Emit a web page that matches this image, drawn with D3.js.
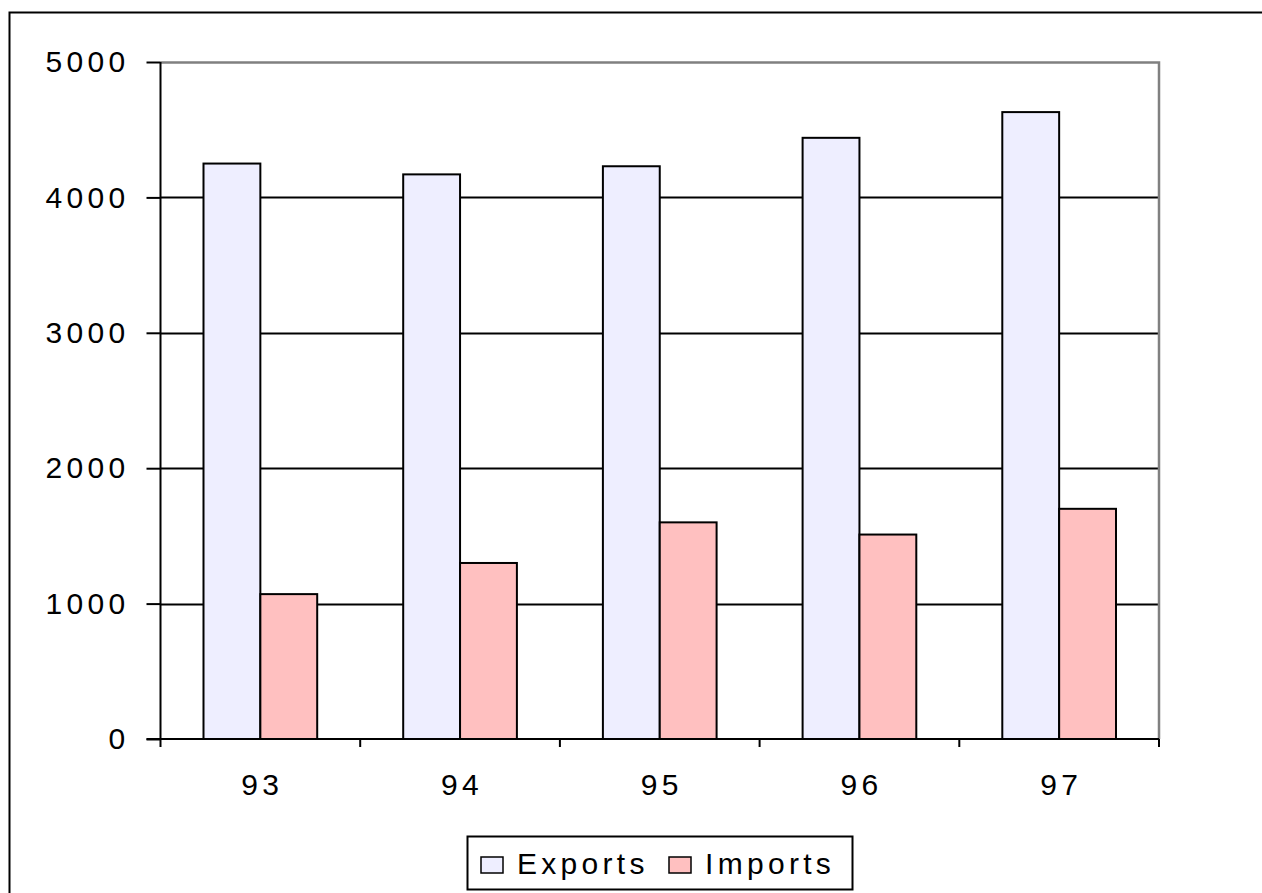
<!DOCTYPE html>
<html>
<head>
<meta charset="utf-8">
<script src="https://cdn.jsdelivr.net/npm/d3@7"></script>
<style>
  html, body { margin: 0; padding: 0; background: #fff; }
  svg { display: block; }
  text { font-family: "Liberation Sans", Arial, sans-serif; fill: #000; }
</style>
</head>
<body>
<svg id="chart" width="1262" height="893"></svg>
<script>
// Trade figures by year
const years = ["93", "94", "95", "96", "97"];
const exports = [4250, 4170, 4230, 4440, 4630];
const imports = [1070, 1300, 1600, 1510, 1700];
const seriesNames = ["Exports", "Imports"];
const seriesColors = ["#EEEEFF", "#FFC0C0"];
const yTicks = [0, 1000, 2000, 3000, 4000, 5000];

const svg = d3.select("#chart");
const W = 1262, H = 893;
const plot = { left: 160.5, right: 1159, top: 62, bottom: 739 };
const FONT = "30px";
const SPACING = "4.3px";

// Outer chart frame (runs past the bottom and right edges)
svg.append("rect")
  .attr("x", 9.5).attr("y", 12.5)
  .attr("width", W + 20).attr("height", H + 20)
  .attr("fill", "#fff").attr("stroke", "#000").attr("stroke-width", 2);

const x = d3.scaleBand().domain(years).range([plot.left, plot.right]).paddingInner(0).paddingOuter(0);
const inner = d3.scaleBand().domain(seriesNames).range([43, x.bandwidth() - 43]);
const y = d3.scaleLinear().domain([0, 5000]).range([plot.bottom, plot.top]);

// Gridlines
svg.append("g").selectAll("line")
  .data(yTicks.filter(t => t > 0 && t < 5000))
  .join("line")
  .attr("x1", plot.left).attr("x2", plot.right)
  .attr("y1", d => Math.round(y(d)) + 0.5).attr("y2", d => Math.round(y(d)) + 0.5)
  .attr("stroke", "#000").attr("stroke-width", 2);

// Plot area top/right border
svg.append("path")
  .attr("d", `M${plot.left},${plot.top + 0.5}H${plot.right}V${plot.bottom}`)
  .attr("fill", "none").attr("stroke", "#808080").attr("stroke-width", 2.5);

// Bars
const rows = years.map((yr, i) => ({ year: yr, values: [exports[i], imports[i]] }));
const groups = svg.append("g").selectAll("g")
  .data(rows).join("g")
  .attr("transform", d => `translate(${x(d.year)},0)`);
groups.selectAll("rect")
  .data(d => d.values.map((v, j) => ({ name: seriesNames[j], value: v, color: seriesColors[j] })))
  .join("rect")
  .attr("x", d => inner(d.name))
  .attr("width", inner.bandwidth())
  .attr("y", d => y(d.value))
  .attr("height", d => plot.bottom - y(d.value))
  .attr("fill", d => d.color)
  .attr("stroke", "#000").attr("stroke-width", 2);

// Y axis
const yAxis = svg.append("g")
  .attr("transform", `translate(${plot.left},0)`)
  .call(d3.axisLeft(y).tickValues(yTicks).tickSize(14).tickPadding(20).tickFormat(d3.format("d")));
yAxis.select(".domain").attr("stroke", "#000").attr("stroke-width", 2).attr("d", `M0,${plot.top}V${plot.bottom}`);
yAxis.selectAll(".tick line").attr("stroke", "#000").attr("stroke-width", 2);
yAxis.selectAll(".tick text")
  .style("font-size", FONT).style("letter-spacing", SPACING)
  .attr("dx", "3")
  .style("font-family", "'Liberation Sans', Arial, sans-serif").attr("fill", "#000");

// X axis
const xAxis = svg.append("g")
  .attr("transform", `translate(0,${plot.bottom})`)
  .call(d3.axisBottom(x).tickSize(0).tickPadding(35));
xAxis.select(".domain").attr("stroke", "#000").attr("stroke-width", 2).attr("d", `M${plot.left - 14},0H${plot.right}`);
xAxis.selectAll(".tick text")
  .style("font-size", FONT).style("letter-spacing", SPACING)
  .attr("dx", "2")
  .style("font-family", "'Liberation Sans', Arial, sans-serif").attr("fill", "#000");
// Category separators below the axis
svg.append("g").selectAll("line")
  .data(years.concat(["end"]))
  .join("line")
  .attr("x1", (d, i) => i < years.length ? x(d) : plot.right)
  .attr("x2", (d, i) => i < years.length ? x(d) : plot.right)
  .attr("y1", plot.bottom).attr("y2", plot.bottom + 8)
  .attr("stroke", "#000").attr("stroke-width", 2);

// Legend
const legend = svg.append("g").attr("transform", "translate(467,836)");
legend.append("rect")
  .attr("x", 0.5).attr("y", 0.5).attr("width", 385).attr("height", 53)
  .attr("fill", "#fff").attr("stroke", "#000").attr("stroke-width", 2);
const legendX = [14, 202];
seriesNames.forEach((name, i) => {
  const g = legend.append("g").attr("transform", `translate(${legendX[i]},0)`);
  g.append("rect")
    .attr("x", 0).attr("y", 21).attr("width", 22).attr("height", 16)
    .attr("fill", seriesColors[i]).attr("stroke", "#000").attr("stroke-width", 1.5);
  g.append("text")
    .attr("x", 36).attr("y", 38)
    .style("font-size", FONT).style("letter-spacing", SPACING)
    .text(name);
});
</script>
</body>
</html>
